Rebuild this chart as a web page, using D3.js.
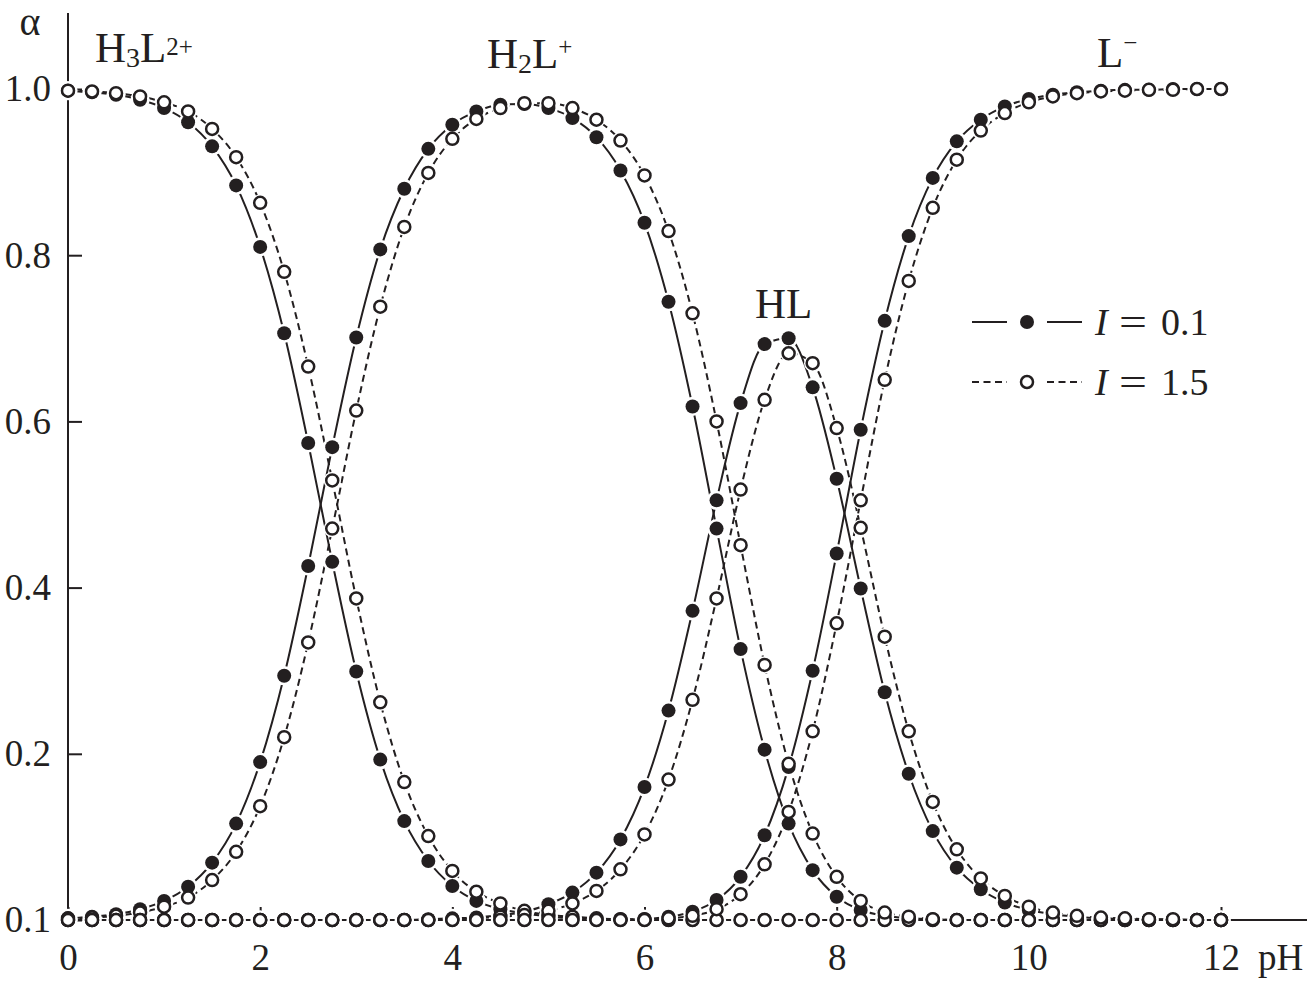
<!DOCTYPE html>
<html><head><meta charset="utf-8">
<script src="https://cdn.jsdelivr.net/npm/d3@7"></script>
<style>
body{margin:0;background:#fff}
svg{display:block}
text{font-family:"Liberation Serif","Times New Roman",serif;fill:#231f20}
</style>
</head><body>
<svg id="chart" width="1315" height="983"></svg>
<script>
// pH grid (x categories)
const pH = [0,0.25,0.5,0.75,1,1.25,1.5,1.75,2,2.25,2.5,2.75,3,3.25,3.5,3.75,4,4.25,4.5,4.75,5,5.25,5.5,5.75,6,6.25,6.5,6.75,7,7.25,7.5,7.75,8,8.25,8.5,8.75,9,9.25,9.5,9.75,10,10.25,10.5,10.75,11,11.25,11.5,11.75,12];

// I = 0.1 (solid line, filled circles)
const H3L_I01 = [0.998,0.996,0.993,0.987,0.977,0.960,0.931,0.884,0.810,0.706,0.574,0.431,0.299,0.193,0.119,0.071,0.041,0.023,0.013,0.008,0.004,0.002,0.001,0.001,0,0,0,0,0,0,0,0,0,0,0,0,0,0,0,0,0,0,0,0,0,0,0,0,0];
const H2L_I01 = [0.002,0.004,0.007,0.013,0.023,0.040,0.069,0.116,0.190,0.294,0.426,0.569,0.701,0.807,0.880,0.928,0.957,0.973,0.981,0.982,0.977,0.965,0.942,0.902,0.839,0.744,0.618,0.471,0.326,0.205,0.116,0.060,0.028,0.012,0.005,0.002,0.001,0,0,0,0,0,0,0,0,0,0,0,0];
const HL_I01  = [0,0,0,0,0,0,0,0,0,0,0,0,0,0,0,0.001,0.002,0.003,0.006,0.010,0.019,0.033,0.057,0.097,0.160,0.252,0.372,0.505,0.622,0.693,0.700,0.641,0.531,0.399,0.274,0.176,0.107,0.063,0.037,0.021,0.012,0.007,0.004,0.002,0.001,0.001,0,0,0];
const L_I01   = [0,0,0,0,0,0,0,0,0,0,0,0,0,0,0,0,0,0,0,0,0,0,0,0,0.001,0.004,0.010,0.024,0.052,0.102,0.184,0.300,0.441,0.590,0.721,0.823,0.893,0.937,0.963,0.979,0.988,0.993,0.996,0.998,0.999,0.999,1.000,1.000,1.000];

// I = 1.5 (dashed line, open circles)
const H3L_I15 = [0.998,0.997,0.995,0.991,0.984,0.973,0.952,0.918,0.863,0.780,0.666,0.529,0.387,0.262,0.166,0.101,0.059,0.034,0.020,0.011,0.006,0.004,0.002,0.001,0.001,0,0,0,0,0,0,0,0,0,0,0,0,0,0,0,0,0,0,0,0,0,0,0,0];
const H2L_I15 = [0.002,0.003,0.005,0.009,0.016,0.027,0.048,0.082,0.137,0.220,0.334,0.471,0.613,0.738,0.834,0.899,0.940,0.964,0.977,0.983,0.983,0.977,0.963,0.938,0.896,0.829,0.730,0.600,0.451,0.307,0.188,0.104,0.052,0.023,0.009,0.004,0.001,0,0,0,0,0,0,0,0,0,0,0,0];
const HL_I15  = [0,0,0,0,0,0,0,0,0,0,0,0,0,0,0,0,0.001,0.002,0.004,0.006,0.011,0.020,0.035,0.061,0.103,0.169,0.265,0.387,0.518,0.626,0.682,0.670,0.592,0.472,0.341,0.227,0.142,0.085,0.050,0.029,0.016,0.009,0.005,0.003,0.002,0.001,0.001,0,0];
const L_I15   = [0,0,0,0,0,0,0,0,0,0,0,0,0,0,0,0,0,0,0,0,0,0,0,0,0,0.002,0.005,0.013,0.031,0.067,0.130,0.227,0.357,0.505,0.650,0.769,0.857,0.915,0.950,0.971,0.984,0.991,0.995,0.997,0.998,0.999,0.999,1.000,1.000];

// tick labels
const xTickValues = [0,2,4,6,8,10,12];
const xMinorTickValues = [1,3,5,7,9,11];
const yTickValues = [0,0.2,0.4,0.6,0.8,1.0];
const yTickLabels = ["0.1","0.2","0.4","0.6","0.8","1.0"];
const ionicStrengths = ["0.1","1.5"];

const ink = "#231f20";
const svg = d3.select("#chart");
const x = d3.scaleLinear().domain([0,12]).range([68,1221]);
const y = d3.scaleLinear().domain([0,1]).range([920,89]);

const series = [
  {I:"0.1", v:H3L_I01},{I:"0.1", v:H2L_I01},{I:"0.1", v:HL_I01},{I:"0.1", v:L_I01},
  {I:"1.5", v:H3L_I15},{I:"1.5", v:H2L_I15},{I:"1.5", v:HL_I15},{I:"1.5", v:L_I15}
];
const style = {
  "0.1": {dash:null, filled:true, r:7},
  "1.5": {dash:"7,4.5", filled:false, r:6}
};

// axes lines
svg.append("line").attr("x1",68).attr("x2",68).attr("y1",13).attr("y2",920)
  .attr("stroke",ink).attr("stroke-width",2);
svg.append("line").attr("x1",68).attr("x2",1307).attr("y1",920).attr("y2",920)
  .attr("stroke",ink).attr("stroke-width",2);

// y axis
const yAxis = d3.axisLeft(y).tickValues(yTickValues).tickSize(-14).tickPadding(17)
  .tickFormat((d,i)=>yTickLabels[i]);
const gy = svg.append("g").attr("transform","translate(68,0)").call(yAxis);
gy.select(".domain").remove();
gy.selectAll("line").attr("stroke",ink).attr("stroke-width",2);
gy.selectAll("text").attr("font-size",37).attr("font-family","Liberation Serif").attr("fill",ink);

// x axis major
const xAxis = d3.axisBottom(x).tickValues(xTickValues).tickSize(-13).tickPadding(24)
  .tickFormat(d3.format("d"));
const gx = svg.append("g").attr("transform","translate(0,920)").call(xAxis);
gx.select(".domain").remove();
gx.selectAll("line").attr("stroke",ink).attr("stroke-width",2);
gx.selectAll("text").attr("font-size",37).attr("font-family","Liberation Serif").attr("fill",ink);
// x axis minor
const xMinor = d3.axisBottom(x).tickValues(xMinorTickValues).tickSize(5).tickFormat("");
const gxm = svg.append("g").attr("transform","translate(0,920)").call(xMinor);
gxm.select(".domain").remove();
gxm.selectAll("line").attr("stroke",ink).attr("stroke-width",2);

// curves
const line = d3.line().x((d,i)=>x(pH[i])).y(d=>y(d)).curve(d3.curveMonotoneX);
series.forEach(s=>{
  svg.append("path").attr("d",line(s.v)).attr("fill","none").attr("stroke",ink)
    .attr("stroke-width",2).attr("stroke-dasharray",style[s.I].dash);
});

// halos
series.forEach(s=>{
  svg.append("g").selectAll("circle").data(s.v).join("circle")
    .attr("cx",(d,i)=>x(pH[i])).attr("cy",d=>y(d)).attr("r",style[s.I].r+2.6).attr("fill","#fff");
});
// markers: filled first, then open
["0.1","1.5"].forEach(I=>{
  series.filter(s=>s.I===I).forEach(s=>{
    const st = style[I];
    svg.append("g").selectAll("circle").data(s.v).join("circle")
      .attr("cx",(d,i)=>x(pH[i])).attr("cy",d=>y(d)).attr("r",st.r)
      .attr("fill",st.filled?ink:"#fff").attr("stroke",st.filled?"none":ink)
      .attr("stroke-width",st.filled?0:2.5);
  });
});

// axis titles
svg.append("text").attr("x",30).attr("y",35).attr("text-anchor","middle").attr("font-size",40).text("α");
svg.append("text").attr("x",1258).attr("y",970).attr("font-size",37).text("pH");

// species labels: parts = [text, baseline offset, font size]
function species(xp, yp, parts){
  const t = svg.append("text").attr("x",xp).attr("y",yp).attr("font-size",43);
  let cur = 0;
  parts.forEach(p=>{
    const off = p[1];
    t.append("tspan").attr("dy",off-cur).attr("font-size",p[2]).text(p[0]);
    cur = off;
  });
}
species(95,62,[["H",0,43],["3",5,28],["L",0,43],["2+",-7,25]]);
species(487,68,[["H",0,43],["2",5,28],["L",0,43],["+",-13,25]]);
species(755,318,[["HL",0,43]]);
species(1097,67,[["L",0,43],["\u2212",-16,25]]);

// legend
ionicStrengths.forEach((I,k)=>{
  const ly = 322 + k*60;
  const st = style[I];
  const g = svg.append("g");
  [[972,1007],[1047,1082]].forEach(seg=>{
    g.append("line").attr("x1",seg[0]).attr("x2",seg[1]).attr("y1",ly).attr("y2",ly)
      .attr("stroke",ink).attr("stroke-width",2).attr("stroke-dasharray",st.dash);
  });
  g.append("circle").attr("cx",1027).attr("cy",ly).attr("r",st.r)
    .attr("fill",st.filled?ink:"#fff").attr("stroke",st.filled?"none":ink).attr("stroke-width",st.filled?0:2.5);
  const t = g.append("text").attr("y",ly+13).attr("font-size",38);
  t.append("tspan").attr("x",1095).attr("font-style","italic").text("I");
  t.append("tspan").attr("x",1119).attr("textLength",28).attr("lengthAdjust","spacingAndGlyphs").text("=");
  t.append("tspan").attr("x",1161).text(I);
});
</script>
</body></html>
